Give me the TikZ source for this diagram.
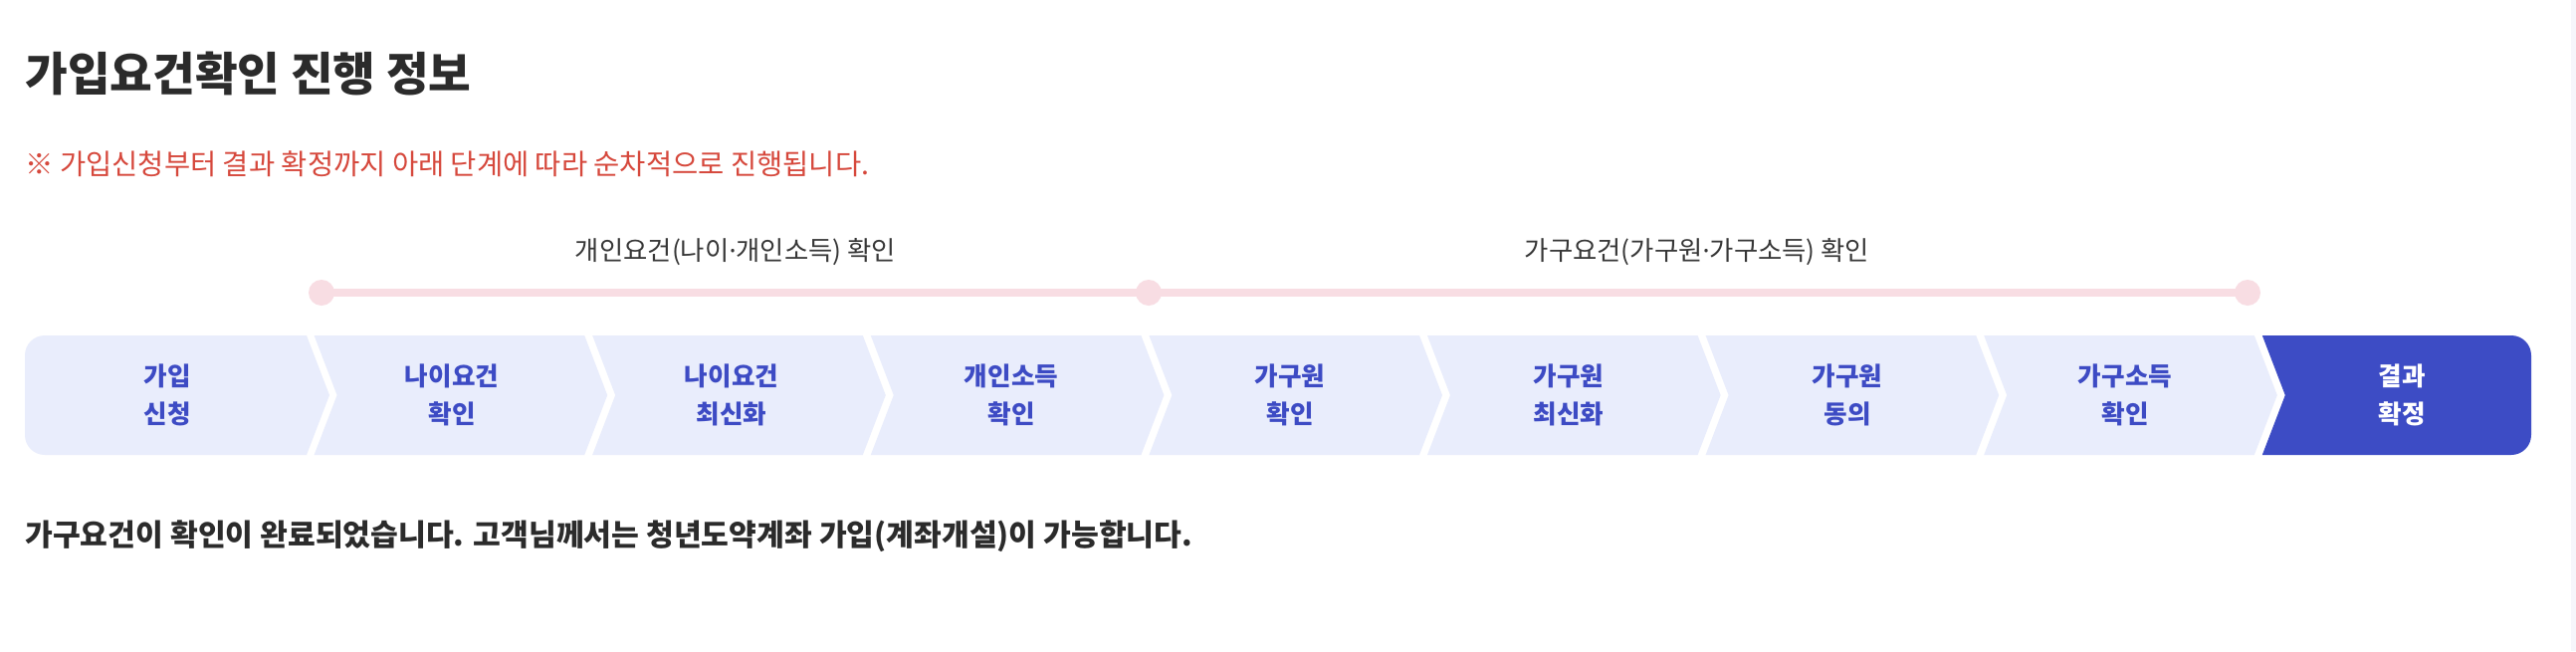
\documentclass[tikz,border=0pt]{standalone}
\usepackage{fontspec}
\setmainfont{Noto Sans CJK KR}
\newfontfamily\latinsans{Noto Sans}
\newcommand{\mdot}{{\latinsans ·}}
\definecolor{titlec}{RGB}{43,43,43}
\definecolor{redc}{RGB}{214,72,60}
\definecolor{labelc}{RGB}{55,55,55}
\definecolor{pinkc}{RGB}{248,221,227}
\definecolor{lightc}{RGB}{233,237,252}
\definecolor{bluec}{RGB}{61,75,196}
\definecolor{darkc}{RGB}{61,76,197}
\definecolor{stripc}{RGB}{246,246,251}
\tikzset{
  stepbox/.style={inner sep=0pt, align=center, font=\fontsize{12.8}{19}\selectfont\bfseries, text=bluec},
  laststep/.style={stepbox, text=white},
  grouplabel/.style={inner sep=0pt, font=\fontsize{13.2}{15}\selectfont, text=labelc},
  dotc/.style={fill=pinkc, draw=none},
}
\begin{document}
\begin{tikzpicture}[x=0.5pt,y=-0.5pt]
\useasboundingbox (0,0) rectangle (2588,654);
\fill[white] (0,0) rectangle (2588,654);
\fill[stripc] (2583,0) rectangle (2588,654);
% title
\node[anchor=west, inner sep=0pt, font=\fontsize{23.2}{26}\selectfont\bfseries, text=titlec] (title) at (25,74) {가입요건확인 진행 정보};
\node[anchor=west, inner sep=0pt, font=\fontsize{14.25}{17}\selectfont, text=redc] (note) at (25,165) {※ 가입신청부터 결과 확정까지 아래 단계에 따라 순차적으로 진행됩니다.};
% group labels
\node[grouplabel] (g1) at (739,253) {개인요건(나이\mdot 개인소득) 확인};
\node[grouplabel] (g2) at (1705,253) {가구요건(가구원\mdot 가구소득) 확인};
% timeline
\coordinate (d1) at (323,294);
\coordinate (d2) at (1154,294);
\coordinate (d3) at (2258,294);
\draw[pinkc, line width=4pt] (d1) -- (d2) -- (d3);
\fill[dotc] (d1) circle (13);
\fill[dotc] (d2) circle (13);
\fill[dotc] (d3) circle (13);
% chevrons
\def\T{337}\def\M{397}\def\Bt{457}
% first segment
\fill[lightc] (308,\T) -- (45,\T) arc[start angle=270,end angle=180,radius=20] -- (25,437) arc[start angle=180,end angle=90,radius=20] -- (308,\Bt) -- (331,\M) -- cycle;
\foreach \k in {1,...,7}{
  \pgfmathsetmacro{\a}{28+279.6*\k}
  \pgfmathsetmacro{\b}{28+279.6*(\k+1)}
  \fill[lightc] (\a+8,\T) -- (\b,\T) -- (\b+23,\M) -- (\b,\Bt) -- (\a+8,\Bt) -- (\a+31,\M) -- cycle;
}
\pgfmathsetmacro{\a}{28+279.6*8}
\fill[darkc] (\a+8,\T) -- (2523,\T) arc[start angle=270,end angle=360,radius=20] -- (2543,437) arc[start angle=0,end angle=90,radius=20] -- (\a+8,\Bt) -- (\a+31,\M) -- cycle;
% step texts
\node[stepbox] (s1) at (168,397) {가입\\신청};
\node[stepbox] (s2) at (454,397) {나이요건\\확인};
\node[stepbox] (s3) at (735,397) {나이요건\\최신화};
\node[stepbox] (s4) at (1016,397) {개인소득\\확인};
\node[stepbox] (s5) at (1296,397) {가구원\\확인};
\node[stepbox] (s6) at (1576,397) {가구원\\최신화};
\node[stepbox] (s7) at (1856,397) {가구원\\동의};
\node[stepbox] (s8) at (2135,397) {가구소득\\확인};
\node[laststep] (s9) at (2413,397) {결과\\확정};
% bottom
\node[anchor=west, inner sep=0pt, font=\fontsize{15.1}{17}\selectfont\bfseries, text=titlec] (result) at (25,539) {가구요건이 확인이 완료되었습니다. 고객님께서는 청년도약계좌 가입(계좌개설)이 가능합니다.};
\end{tikzpicture}
\end{document}
